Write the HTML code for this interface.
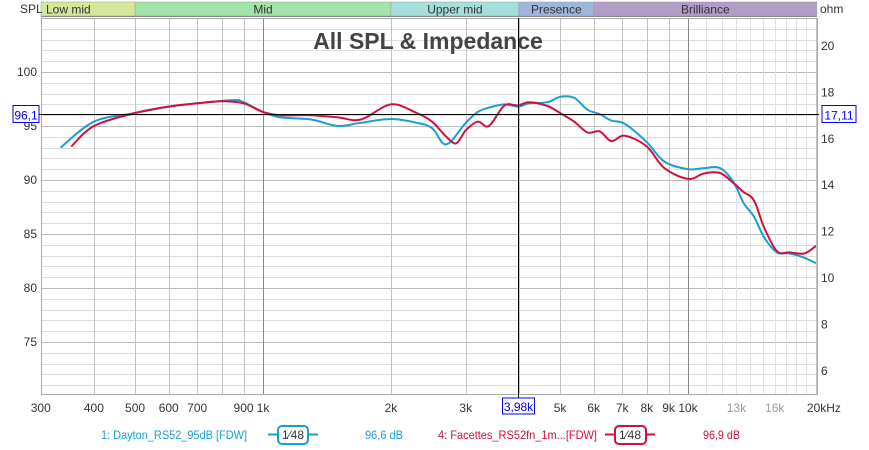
<!DOCTYPE html>
<html><head><meta charset="utf-8"><style>
html,body{margin:0;padding:0;background:#fff;width:869px;height:446px;overflow:hidden}
svg{display:block}
text{font-family:"Liberation Sans Narrow","Liberation Sans",sans-serif}
</style></head><body>
<svg id="chart" width="869" height="446">
<g id="bands"></g><g id="grid"></g><g id="axes"></g><g id="series"></g><g id="overlay"></g>
</svg>
<script>
const bandNames=["Low mid","Mid","Upper mid","Presence","Brilliance"];
const bandEdges=[300,500,2000,4000,6000,20100];
const bandColors=["#d4e89a","#a3e4a8","#a4dfdb","#9fb5dc","#b29dc8"];
const xTickValues=[300,400,500,600,700,900,1000,2000,3000,5000,6000,7000,8000,9000,10000,13000,16000,20000];
const xTickLabels=["300","400","500","600","700","900","1k","2k","3k","5k","6k","7k","8k","9k","10k","13k","16k","20kHz"];
const yTicks=[75,80,85,90,95,100];
const ohmTicks=[6,8,10,12,14,16,18,20];
const blueFreq=[334,400,500,600,700,850,900,1000,1100,1300,1500,1700,2000,2300,2500,2700,3000,3200,3400,3700,3980,4230,4670,5000,5400,5800,6200,6600,7100,8000,8800,10000,10900,11900,12800,13500,14300,15100,16200,17300,18800,20000];
const blueSpl=[93.0,95.4,96.2,96.8,97.1,97.4,97.2,96.3,95.8,95.6,95.0,95.3,95.65,95.3,94.8,93.3,95.3,96.3,96.7,97.0,96.8,97.1,97.2,97.7,97.6,96.5,96.1,95.5,95.2,93.5,91.7,91.0,91.1,91.1,89.8,87.9,86.6,84.7,83.3,83.2,82.8,82.3];
const redFreq=[354,400,500,600,700,800,900,1000,1100,1300,1500,1700,2000,2300,2500,2700,2850,3000,3200,3400,3700,3980,4230,4670,5000,5400,5800,6200,6600,7100,8000,8800,10000,10900,11900,12800,13500,14300,15100,16200,17300,18800,20000];
const redSpl=[93.1,95.0,96.2,96.8,97.1,97.3,97.1,96.3,96.0,96.0,95.8,95.6,97.0,96.2,95.4,94.0,93.4,94.6,95.4,95.0,96.9,96.9,97.2,96.85,96.2,95.4,94.4,94.5,93.6,94.1,93.1,91.1,90.1,90.6,90.65,89.7,88.9,88.1,85.6,83.4,83.3,83.2,83.9];
const cursorFreq=3980, cursorSpl=96.1, cursorOhm=17.11;

const L=41,R=817,T=18,B=394,NS="http://www.w3.org/2000/svg";
const X=f=>263+425*Math.log10(f/1000);
const Y=v=>72+(100-v)*10.8;
const YO=o=>45+(20-o)*23.2;
function el(tag,attrs,parent,txt){const e=document.createElementNS(NS,tag);for(const k in attrs)e.setAttribute(k,attrs[k]);if(txt!==undefined)e.textContent=txt;parent.appendChild(e);return e;}
const bands=document.getElementById('bands'),grid=document.getElementById('grid'),axes=document.getElementById('axes'),series=document.getElementById('series'),ov=document.getElementById('overlay');
for(let i=0;i<bandNames.length;i++){
 const x0=Math.max(L,X(bandEdges[i])),x1=Math.min(R,X(bandEdges[i+1]));
 const r=el('rect',{x:x0,y:2,width:x1-x0,height:14,fill:bandColors[i],stroke:"#999","stroke-width":0.5},bands);
 
 
 const t=el('text',{x:(i==0?x0+5:(x0+x1)/2),y:13.5,"font-size":12,fill:"#333","text-anchor":(i==0?"start":"middle")},bands,bandNames[i]);
 
 
}
el('line',{x1:L,y1:16.5,x2:R,y2:16.5,stroke:"#888","stroke-width":1},bands);
for(let v=71;v<=104;v++){const y=Math.round(Y(v))+0.5;el('line',{x1:L,x2:R,y1:y,y2:y,stroke:(v%5==0?"#bbb":"#ddd"),"stroke-width":1},grid);}
const vx=[];for(let d of [100,1000,10000])for(let m=1;m<10;m++)vx.push(d*m);vx.push(20000);
for(let k=11;k<20;k++)vx.push(k*1000);
vx.forEach(f=>{if(f<300||f>20000)return;const x=Math.round(X(f))+0.5;let c=(f>10000&&f%1000==0&&[20000].indexOf(f)<0)?"#e2e2e2":"#c4c4c4";if(f==1000||f==10000)c="#888";el('line',{x1:x,x2:x,y1:T,y2:B,stroke:c,"stroke-width":1},grid);});
el('rect',{x:L+0.5,y:T+0.5,width:R-L,height:B-T,fill:"none",stroke:"#aaa"},grid);
el('text',{x:20,y:13,"font-size":12,fill:"#333"},axes,"SPL");
el('text',{x:820,y:13,"font-size":12,fill:"#333"},axes,"ohm");
yTicks.forEach(v=>{const t=el('text',{x:37,y:Y(v)+4,"font-size":12,fill:"#333","text-anchor":"end"},axes,String(v));});
ohmTicks.forEach(o=>{const t=el('text',{x:821,y:YO(o)+5,"font-size":12,fill:"#333"},axes,String(o));});
xTickValues.forEach((f,i)=>{const gray=(f==13000||f==16000);const t=el('text',{x:X(f)+(f==20000?8:0),y:412,"font-size":12,fill:gray?"#999":"#333","text-anchor":"middle"},axes,xTickLabels[i]);});
el('text',{x:428,y:49,"font-size":23,"font-weight":"bold",fill:"#444","text-anchor":"middle"},axes,"All SPL & Impedance");
function path(fr,vals){const p=fr.map((f,i)=>[X(f),Y(vals[i])]);let d="M"+p[0][0].toFixed(1)+","+p[0][1].toFixed(1);
 for(let i=0;i<p.length-1;i++){const p0=p[Math.max(0,i-1)],p1=p[i],p2=p[i+1],p3=p[Math.min(p.length-1,i+2)];
 const c1=[p1[0]+(p2[0]-p0[0])/6,p1[1]+(p2[1]-p0[1])/6],c2=[p2[0]-(p3[0]-p1[0])/6,p2[1]-(p3[1]-p1[1])/6];
 d+=" C"+c1.map(n=>n.toFixed(1))+" "+c2.map(n=>n.toFixed(1))+" "+p2.map(n=>n.toFixed(1));}return d;}
const pb=el('path',{d:path(blueFreq,blueSpl),fill:"none",stroke:"#1a9fd0","stroke-width":2},series);


const pr=el('path',{d:path(redFreq,redSpl),fill:"none",stroke:"#d0103a","stroke-width":2},series);


const cx=Math.round(X(cursorFreq))+0.5,cy=Math.round(Y(cursorSpl))+0.5;
el('line',{x1:cx,x2:cx,y1:T,y2:B+4,stroke:"#000","stroke-width":1},ov);
el('line',{x1:L-2,x2:R+2,y1:cy,y2:cy,stroke:"#000","stroke-width":1},ov);
el('rect',{x:13,y:cy-9,width:26,height:17,fill:"#fff",stroke:"#00f"},ov);
el('text',{x:26,y:cy+5,"font-size":12,fill:"#00f","text-anchor":"middle"},ov,String(cursorSpl).replace('.',','));
el('rect',{x:822,y:cy-9,width:34,height:17,fill:"#fff",stroke:"#00f"},ov);
el('text',{x:839,y:cy+5,"font-size":12,fill:"#00f","text-anchor":"middle"},ov,String(cursorOhm).replace('.',','));
el('rect',{x:cx-16,y:398,width:32,height:16,fill:"#fff",stroke:"#00f"},ov);
el('text',{x:cx,y:411,"font-size":12,fill:"#00f","text-anchor":"middle"},ov,(cursorFreq/1000).toFixed(2).replace('.',',')+"k");
</script>
<svg width="869" height="30" style="position:absolute;left:0;top:420px">
<g>
<text x="101" y="19" font-size="12" fill="#1a9fd0" textLength="146" lengthAdjust="spacingAndGlyphs">1: Dayton_RS52_95dB [FDW]</text>
<line x1="268" x2="318" y1="14.5" y2="14.5" stroke="#1a9fd0" stroke-width="2"/>
<rect x="278" y="6" width="30" height="18" rx="4" fill="#fff" stroke="#1a9fd0" stroke-width="2"/>
<text x="282" y="19" font-size="12" fill="#333">1⁄48</text>
<text x="365" y="19" font-size="12" fill="#1a9fd0" textLength="38" lengthAdjust="spacingAndGlyphs">96,6 dB</text>
</g>
<g>
<text x="438" y="19" font-size="12" fill="#d0103a" textLength="159" lengthAdjust="spacingAndGlyphs">4: Facettes_RS52fn_1m...[FDW]</text>
<line x1="605" x2="655" y1="14.5" y2="14.5" stroke="#d0103a" stroke-width="2"/>
<rect x="615" y="6" width="31" height="18" rx="4" fill="#fff" stroke="#d0103a" stroke-width="2"/>
<text x="619" y="19" font-size="12" fill="#333">1⁄48</text>
<text x="703" y="19" font-size="12" fill="#d0103a" textLength="37" lengthAdjust="spacingAndGlyphs">96,9 dB</text>
</g>
</svg>
</body></html>
